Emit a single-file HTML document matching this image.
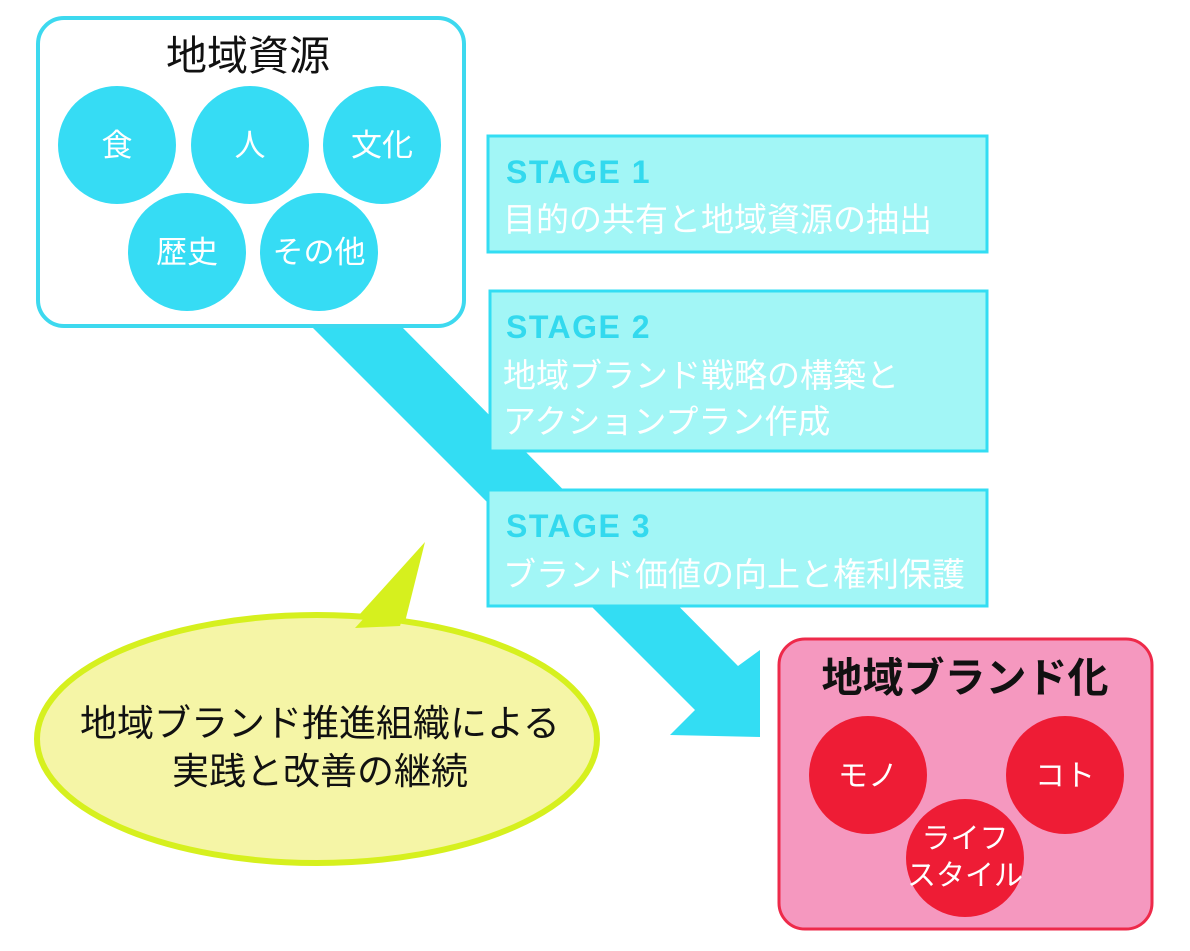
<!DOCTYPE html>
<html><head><meta charset="utf-8"><style>
html,body{margin:0;padding:0;background:#fff;}
svg text{font-family:"Liberation Sans","Noto Sans CJK JP",sans-serif;}
</style></head><body>
<svg width="1190" height="946" viewBox="0 0 1190 946" xmlns="http://www.w3.org/2000/svg">
<rect width="1190" height="946" fill="#fff"/>
<polygon points="310,325 400,325 738,666 760,650 760,737 670,735 695,710" fill="#33ddf3"/>
<rect x="38" y="18" width="426" height="308" rx="26" fill="#fff" stroke="#3dd9ef" stroke-width="4"/>
<text x="248" y="70" font-size="41" text-anchor="middle" fill="#111">地域資源</text>
<g fill="#36dcf4">
<circle cx="117" cy="145" r="59"/><circle cx="250" cy="145" r="59"/><circle cx="382" cy="145" r="59"/>
<circle cx="187" cy="252" r="59"/><circle cx="319" cy="252" r="59"/>
</g>
<g fill="#fff" font-size="31" text-anchor="middle">
<text x="117" y="156">食</text><text x="250" y="156">人</text><text x="382" y="156">文化</text>
<text x="187" y="263">歴史</text><text x="319" y="263">その他</text>
</g>
<g fill="#a2f6f6" stroke="#33ddf3" stroke-width="3">
<rect x="488" y="136" width="499" height="116"/>
<rect x="490" y="291" width="497" height="160"/>
<rect x="488" y="490" width="499" height="116"/>
</g>
<g font-size="32" font-weight="bold" fill="#33d9ee" letter-spacing="1.5">
<text x="506" y="183">STAGE 1</text><text x="506" y="338">STAGE 2</text><text x="506" y="537">STAGE 3</text>
</g>
<g font-size="33" fill="#fff">
<text x="503" y="231">目的の共有と地域資源の抽出</text>
<text x="503" y="387">地域ブランド戦略の構築と</text>
<text x="503" y="433">アクションプラン作成</text>
<text x="503" y="586">ブランド価値の向上と権利保護</text>
</g>
<polygon points="350,625 405,622 425,542" fill="#d6f01e"/>
<ellipse cx="317" cy="739" rx="280" ry="124" fill="#f5f5a6" stroke="#d6f01e" stroke-width="6"/>
<polygon points="355,628 400,626 421,556" fill="#d6f01e"/>
<g font-size="37" fill="#111" text-anchor="middle">
<text x="320" y="736">地域ブランド推進組織による</text>
<text x="320" y="784">実践と改善の継続</text>
</g>
<rect x="779" y="639" width="373" height="290" rx="26" fill="#f598bf" stroke="#ee2a4a" stroke-width="3"/>
<text x="965" y="692" font-size="41" font-weight="bold" text-anchor="middle" fill="#111">地域ブランド化</text>
<g fill="#ee1c35">
<circle cx="868" cy="775" r="59"/><circle cx="1065" cy="775" r="59"/><circle cx="965" cy="858" r="59"/>
</g>
<g fill="#fff" font-size="30" text-anchor="middle">
<text x="868" y="786">モノ</text><text x="1065" y="786">コト</text>
<text x="965" y="848" font-size="29">ライフ</text><text x="965" y="885" font-size="29">スタイル</text>
</g>
</svg>
</body></html>
